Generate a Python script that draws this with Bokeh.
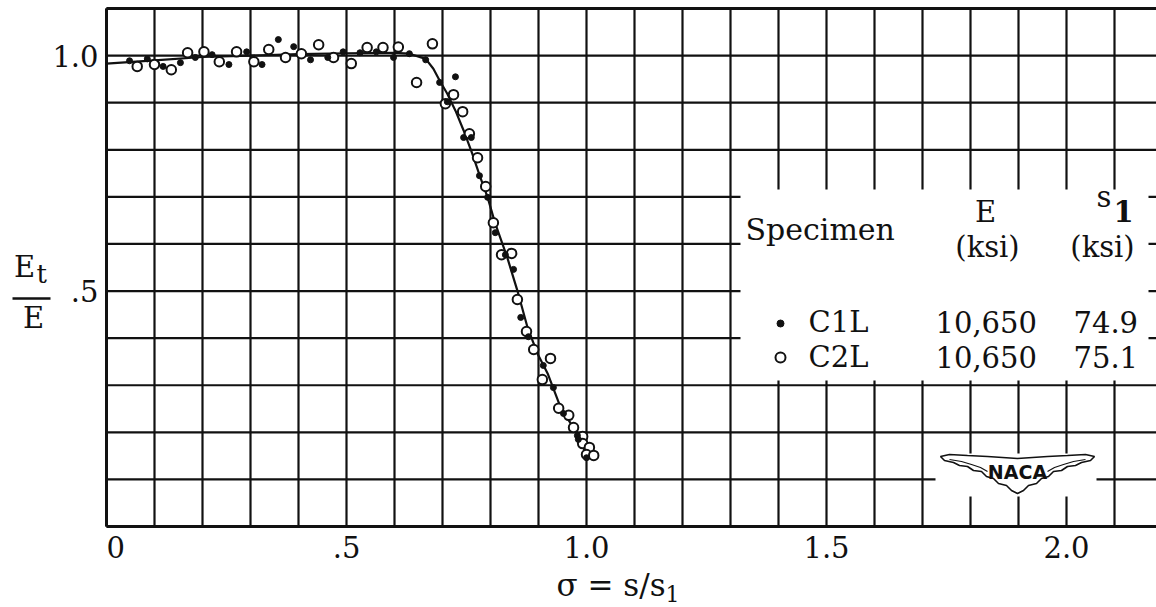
from bokeh.plotting import figure
from bokeh.models import Range1d
from bokeh.core.properties import value
from bokeh.embed import file_html
from bokeh.resources import INLINE

# Specimen C1L (solid symbols): stress ratio sigma = s/s1 and tangent-modulus ratio Et/E
c1l_sigma = [0.048, 0.085, 0.118, 0.154, 0.185, 0.220, 0.255, 0.292, 0.324, 0.358,
             0.390, 0.425, 0.461, 0.493, 0.528, 0.562, 0.598, 0.631, 0.665, 0.694,
             0.710, 0.727, 0.744, 0.760, 0.777, 0.794, 0.810, 0.831, 0.848, 0.863,
             0.879, 0.910, 0.931, 0.952, 0.981, 0.983, 1.000]
c1l_ratio = [0.989, 0.993, 0.977, 0.985, 0.996, 1.002, 0.981, 1.008, 0.981, 1.034,
             1.019, 0.991, 0.996, 1.008, 1.006, 1.008, 0.996, 1.004, 0.991, 0.943,
             0.902, 0.955, 0.826, 0.826, 0.745, 0.699, 0.624, 0.577, 0.546, 0.444,
             0.403, 0.342, 0.295, 0.240, 0.193, 0.185, 0.146]

# Specimen C2L (open symbols)
c2l_sigma = [0.064, 0.100, 0.135, 0.169, 0.203, 0.235, 0.271, 0.307, 0.338, 0.373,
             0.406, 0.442, 0.473, 0.510, 0.543, 0.576, 0.608, 0.646, 0.679, 0.706,
             0.723, 0.742, 0.756, 0.773, 0.790, 0.806, 0.823, 0.844, 0.856, 0.875,
             0.890, 0.908, 0.925, 0.942, 0.963, 0.973, 0.992, 0.992, 1.006, 1.000,
             1.015]
c2l_ratio = [0.977, 0.981, 0.970, 1.006, 1.008, 0.987, 1.008, 0.987, 1.013, 0.996,
             1.004, 1.023, 0.996, 0.983, 1.017, 1.017, 1.018, 0.943, 1.025, 0.898,
             0.917, 0.881, 0.834, 0.783, 0.722, 0.645, 0.577, 0.580, 0.482, 0.414,
             0.376, 0.312, 0.357, 0.251, 0.236, 0.210, 0.191, 0.176, 0.168, 0.153,
             0.151]

# Faired curve through both specimens
fair_sigma = [0.0, 0.1, 0.2, 0.3, 0.4, 0.5, 0.6, 0.631, 0.665, 0.681, 0.694, 0.710,
              0.727, 0.744, 0.762, 0.779, 0.794, 0.810, 0.835, 0.856, 0.877, 0.898,
              0.919, 0.946, 0.967, 0.988, 1.000]
fair_ratio = [0.983, 0.990, 0.997, 1.000, 1.003, 1.005, 1.006, 1.004, 0.993, 0.972,
              0.947, 0.919, 0.883, 0.841, 0.792, 0.741, 0.699, 0.643, 0.571, 0.501,
              0.423, 0.367, 0.325, 0.253, 0.219, 0.189, 0.146]

x_ticks = [0, 0.5, 1.0, 1.5, 2.0]
x_tick_labels = ["0", ".5", "1.0", "1.5", "2.0"]
y_ticks = [0.5, 1.0]
y_tick_labels = [".5", "1.0"]

# Graph-paper rulings every 0.1
grid_x = [round(0.1 * i, 1) for i in range(0, 22)]
grid_y = [round(0.1 * i, 1) for i in range(0, 12)]

specimens = ["C1L", "C2L"]
modulus_ksi = ["10,650", "10,650"]
s1_ksi = ["74.9", "75.1"]

# Sheet scale: pixels per unit and pixel position of the origin
SX, SY = 480.0, 470.9
OX, OY = 106.0, 526.0


def dx(px):
    return (px - OX) / SX


def dy(py):
    return (OY - py) / SY


def lift(size_px):
    # the SVG text sits a little low on its alphabetic baseline; raise it back
    return -round(0.37 * size_px)


FONT = "DejaVu Serif"
INK = "#111111"
X_END = dx(1160)

p = figure(width=1156, height=607,
           x_range=Range1d(dx(0), dx(1156)), y_range=Range1d(dy(607), dy(0)),
           output_backend="svg", toolbar_location=None,
           x_axis_location=None, y_axis_location=None, min_border=0)
p.outline_line_color = None
p.xgrid.visible = False
p.ygrid.visible = False
p.background_fill_color = "white"
p.border_fill_color = "white"

# Rulings; the two axes and the top edge are drawn heavier
top = grid_y[-1]
p.segment(x0=grid_x, y0=[0] * len(grid_x), x1=grid_x, y1=[top] * len(grid_x),
          line_color=INK, line_width=2.2)
p.segment(x0=[0] * len(grid_y), y0=grid_y, x1=[X_END] * len(grid_y), y1=grid_y,
          line_color=INK, line_width=2.2)
p.segment(x0=[0, 0, 0], y0=[0, 0, top], x1=[0, X_END, X_END], y1=[top, 0, top],
          line_color=INK, line_width=3)

# Blank panels for the key and the emblem
p.quad(left=dx(740), right=dx(1148), top=dy(189), bottom=dy(380),
       fill_color="white", line_color=None)
p.quad(left=dx(935), right=dx(1096), top=dy(453), bottom=dy(496),
       fill_color="white", line_color=None)

# Faired curve and test points
p.line(fair_sigma, fair_ratio, line_color=INK, line_width=2.2)
p.scatter(c2l_sigma, c2l_ratio, marker="circle", size=9.5, fill_color="white",
          line_color=INK, line_width=2)
p.scatter(c1l_sigma, c1l_ratio, marker="circle", size=6, fill_color=INK,
          line_color=INK)

# Tick labels
TS = 29
p.text(x=x_ticks[1:], y=[0] * 4, text=x_tick_labels[1:], text_font=value(FONT),
       text_font_size=f"{TS}px", text_align="center", text_baseline="alphabetic",
       y_offset=31 + lift(TS), text_color=INK)
p.text(x=x_ticks[:1], y=[0], text=x_tick_labels[:1], text_font=value(FONT),
       text_font_size=f"{TS}px", text_align="left", text_baseline="alphabetic",
       y_offset=31 + lift(TS), text_color=INK)
p.text(x=[dx(98)] * 2, y=y_ticks, text=y_tick_labels, text_font=value(FONT),
       text_font_size=f"{TS}px", text_align="right", text_baseline="alphabetic",
       y_offset=11 + lift(TS), text_color=INK)


def put(text, px, py, size=29, align="left", style="normal", font=FONT):
    p.text(x=[dx(px)], y=[dy(py)], text=[text], text_font=value(font),
           text_font_size=f"{size}px", text_align=align, text_baseline="alphabetic",
           text_font_style=style, y_offset=lift(size), text_color=INK)


# Key
put("Specimen", 745, 240, size=30)
put("E", 985, 222, align="center")
put("(ksi)", 987, 257, align="center")
put("s", 1096, 207)
put("1", 1113, 221, style="bold")
put("(ksi)", 1102, 257, align="center")
rows = [332, 367]
p.scatter([dx(780)], [dy(rows[0] - 9)], marker="circle", size=7, fill_color=INK,
          line_color=INK)
p.scatter([dx(780)], [dy(rows[1] - 10)], marker="circle", size=10,
          fill_color="white", line_color=INK, line_width=2)
for name, e, s1, base in zip(specimens, modulus_ksi, s1_ksi, rows):
    put(name, 808, base)
    put(e, 935, base)
    put(s1, 1073, base)

# Axis titles
put("\u03c3 = s/s", 556, 595, size=31)
put("1", 665, 601, size=22)
put("E", 24, 277, align="center")
put("t", 36, 283, size=26)
put("E", 33, 328, align="center")
p.segment(x0=[dx(12)], y0=[dy(298)], x1=[dx(50)], y1=[dy(298)],
          line_color=INK, line_width=2.5)

# NACA emblem
cx, ty = 1017, 455
top_edge = [(-77, 1), (-68, -1), (-50, 0), (-30, 1), (-15, 2), (0, 3),
            (15, 2), (30, 1), (50, 0), (68, -1), (77, 1)]
right_low = [(73, 5), (64, 7), (58, 10), (50, 11), (44, 15), (36, 16), (31, 21),
             (24, 23), (19, 28), (11, 30), (6, 35), (0, 38)]
left_low = [(-x, y) for x, y in reversed(right_low[:-1])]
outline = top_edge + right_low + left_low
p.patch([dx(cx + a) for a, b in outline], [dy(ty + b) for a, b in outline],
        fill_color="white", line_color=INK, line_width=1.6)
for sgn in (-1, 1):
    inner = [(68, 4), (56, 6), (46, 9), (37, 12), (30, 16)]
    p.line([dx(cx + sgn * a) for a, b in inner], [dy(ty + b) for a, b in inner],
           line_color=INK, line_width=1.2)
put("NACA", cx, 478, size=19, align="center", style="bold", font="DejaVu Sans")

open("out.html", "w").write(file_html(p, INLINE))
